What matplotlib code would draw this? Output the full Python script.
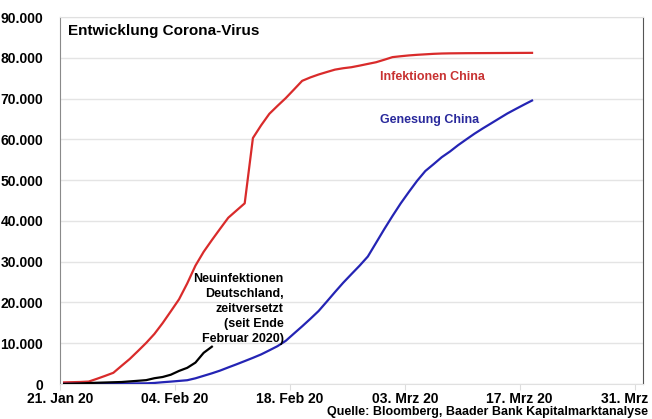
import numpy as np
import pandas as pd
import matplotlib
matplotlib.use("Agg")
import matplotlib.pyplot as plt
import matplotlib.dates as mdates

plt.rcParams['font.family'] = ['Liberation Sans', 'DejaVu Sans']

# daily values from 21 Jan 2020
infektionen_china = [
    400, 450, 500, 600, 1280, 2000, 2750, 4460, 6150, 8090,
    10080, 12280, 14930, 17830, 20770, 24670, 29030, 32420, 35290, 38060,
    40780, 42550, 44310, 60320, 63440, 66260, 68220, 70110, 72220, 74350,
    75190, 75900, 76510, 77100, 77440, 77690, 78080, 78500, 78910, 79520,
    80160, 80380, 80580, 80730, 80850, 80970, 81050, 81090, 81110, 81130,
    81140, 81150, 81160, 81170, 81180, 81190, 81200, 81210,
]
genesung_china = [
    30, 40, 50, 60, 80, 100, 110, 120, 140, 160,
    170, 260, 440, 590, 760, 930, 1400, 2010, 2620, 3290,
    4070, 4830, 5620, 6420, 7260, 8260, 9290, 10590, 12380, 14150,
    15990, 17900, 20210, 22560, 24840, 26950, 29030, 31270, 34620, 37980,
    41200, 44290, 47110, 49830, 52230, 53900, 55620, 57010, 58580, 60000,
    61400, 62680, 63900, 65130, 66350, 67430, 68490, 69520,
]
# Germany, shifted to start at the same day (since end of February)
neuinfektionen_de = [
    20, 60, 130, 240, 310, 370, 430, 490, 640, 790,
    950, 1420, 1720, 2280, 3210, 3970, 5250, 7650, 9150,
]

start = pd.Timestamp("2020-01-21")
# values are stamped at midday
data_start = pd.Timestamp("2020-01-21 12:00")
tick_dates = ["2020-01-21", "2020-02-04", "2020-02-18", "2020-03-03", "2020-03-17", "2020-03-31"]
tick_labels = ["21. Jan 20", "04. Feb 20", "18. Feb 20", "03. Mrz 20", "17. Mrz 20", "31. Mrz 20"]
y_ticks = [0, 10000, 20000, 30000, 40000, 50000, 60000, 70000, 80000, 90000]
y_labels = ["0", "10.000", "20.000", "30.000", "40.000", "50.000", "60.000", "70.000", "80.000", "90.000"]

red = "#d92b2b"
blue = "#2424b4"

fig = plt.figure(figsize=(6.52, 4.19), dpi=100)
ax = fig.add_axes([0.092, 0.0835, 0.894, 0.8759])

d_cn = pd.date_range(data_start, periods=len(infektionen_china), freq="D")
d_gen = pd.date_range(data_start, periods=len(genesung_china), freq="D")
d_de = pd.date_range(data_start, periods=len(neuinfektionen_de), freq="D")

ax.plot(d_cn, infektionen_china, color=red, lw=1.6, zorder=3)
ax.plot(d_gen, genesung_china, color=blue, lw=1.6, zorder=3)
ax.plot(d_de, neuinfektionen_de, color="black", lw=1.6, zorder=3)

ax.set_xlim(start, pd.Timestamp("2020-04-01"))
ax.set_ylim(0, 90000)

ax.set_yticks(y_ticks)
ax.set_yticklabels(y_labels, fontweight="bold", fontsize=10)
ax.set_xticks(pd.to_datetime(tick_dates))
ax.set_xticklabels(tick_labels, fontweight="bold", fontsize=10)
ax.tick_params(axis="y", length=0, pad=12)
ax.tick_params(axis="x", length=4, color="#dddddd", pad=2)

ax.grid(axis="y", color="#e4e4e4", lw=1)
ax.set_axisbelow(True)
for side in ["top", "bottom"]:
    ax.spines[side].set_color("#e0e0e0")
ax.spines["left"].set_color("#8a8a8a")
ax.spines["right"].set_color("#555555")

ax.text(0.0137, 0.962, "Entwicklung Corona-Virus", transform=ax.transAxes,
        fontsize=11, fontweight="bold", va="center", ha="left")
ax.text(0.549, 0.837, "Infektionen China", transform=ax.transAxes,
        fontsize=9, fontweight="bold", color="#c83232", va="center")
ax.text(0.549, 0.719, "Genesung China", transform=ax.transAxes,
        fontsize=9, fontweight="bold", color="#2a2a9c", va="center")
ax.text(0.384, 0.302, "Neuinfektionen\nDeutschland,\nzeitversetzt\n(seit Ende\nFebruar 2020)",
        transform=ax.transAxes, fontsize=9, fontweight="bold", ha="right", va="top",
        linespacing=1.32)

fig.text(0.994, 0.017, "Quelle: Bloomberg, Baader Bank Kapitalmarktanalyse",
         fontsize=9, fontweight="bold", ha="right", va="center")

fig.savefig("out.png", dpi=100)
